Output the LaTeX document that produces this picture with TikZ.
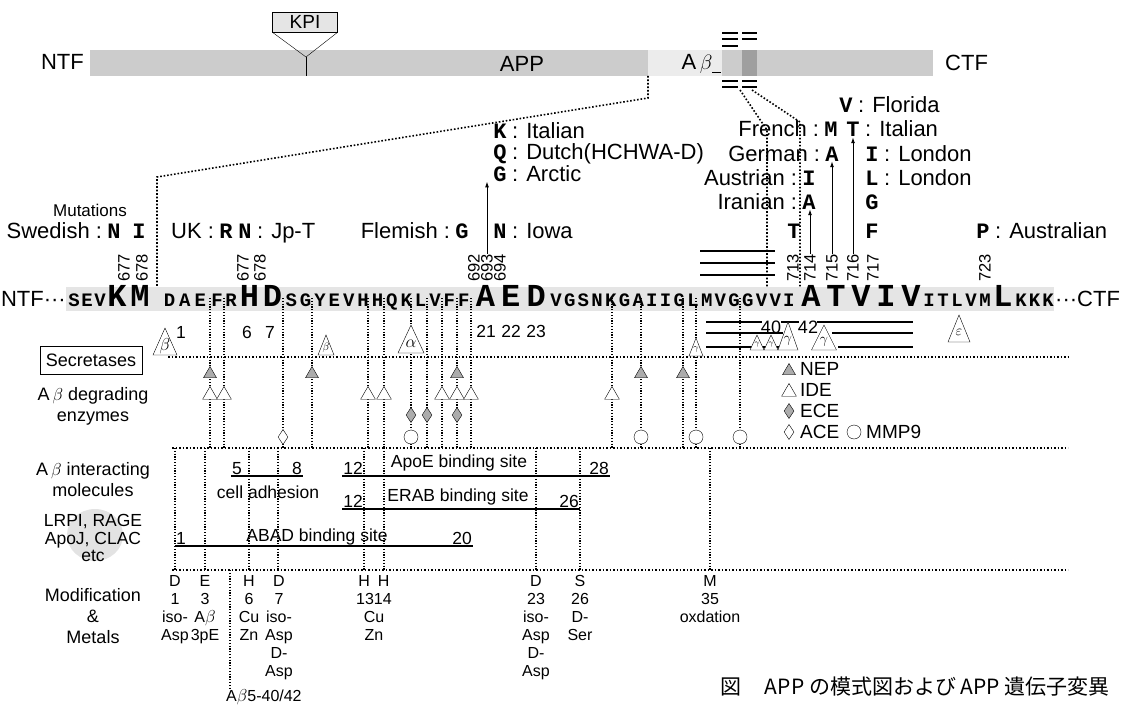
\documentclass[tikz,border=0pt]{standalone}
\usepackage{fontspec}
\setmainfont{Liberation Sans}
\newfontfamily\seqfont{Liberation Mono}
\newfontfamily\jpfont{Noto Sans CJK JP}
\usetikzlibrary{arrows.meta,positioning,shapes.geometric}

\begin{document}
\begin{tikzpicture}[x=1pt,y=-1pt,>={Latex[length=6pt,width=4pt]},
 lbl/.style={font=\fontsize{22}{26}\selectfont,inner sep=0pt},
 mut/.style={font=\fontsize{22}{26}\selectfont\seqfont\bfseries,inner sep=0pt,anchor=base},
 rnum/.style={font=\fontsize{16.5}{18}\selectfont,rotate=90,anchor=west,inner sep=0pt},
 seqs/.style={font=\fontsize{19}{20}\selectfont\seqfont\bfseries,anchor=base,inner sep=0pt},
 seqb/.style={font=\fontsize{32}{34}\selectfont\seqfont\bfseries,anchor=base,inner sep=0pt},
 rowlab/.style={font=\fontsize{18}{21}\selectfont,align=center,inner sep=0pt},
 ilab/.style={font=\fontsize{17.5}{20}\selectfont,inner sep=1pt},
 modt/.style={font=\fontsize{16}{18}\selectfont,align=center,anchor=north,inner sep=0pt},
 sepline/.style={line width=1.6pt,dash pattern=on 1.6pt off 1.9pt},
 colline/.style={line width=1.1pt,dash pattern=on 1.1pt off 1.7pt},
 siteline/.style={line width=1.8pt},
 nep/.style={regular polygon,regular polygon sides=3,minimum size=15pt,inner sep=0pt,draw,fill=gray!65},
 ide/.style={regular polygon,regular polygon sides=3,minimum size=17pt,inner sep=0pt,draw,fill=white},
 ece/.style={diamond,minimum width=10pt,minimum height=15pt,inner sep=0pt,draw,fill=gray!65},
 ace/.style={diamond,minimum width=10pt,minimum height=15pt,inner sep=0pt,draw,fill=white},
 mmp/.style={circle,minimum size=14pt,inner sep=0pt,draw,fill=white}]
\useasboundingbox (0,0) rectangle (1127,706);

% APP bar
\fill[gray!40] (90,50) rectangle (933,76);
\fill[gray!15] (648,50) rectangle (722,76);
\fill[gray!75] (742,50) rectangle (757,76);
\foreach \y in {33,39,81,87} {\draw[line width=1.4pt] (722,\y) -- (738,\y); \draw[line width=1.4pt] (742,\y) -- (757,\y);}
\draw[line width=1.4pt] (722,46) -- (738,46);
\draw (712,72) -- (721,72);
\node[lbl,anchor=east] (ntf) at (84,62) {NTF};
\node[lbl] (app) at (522,64) {APP};
\node[lbl] (abeta) at (697,64) {A\,$\beta$};
\node[lbl,anchor=west] (ctf) at (945,63) {CTF};
\node[draw,fill=gray!20,minimum width=65pt,minimum height=20pt,inner sep=0pt,font=\fontsize{19}{20}\selectfont] (kpi) at (305,22) {KPI};
\coordinate (kpit) at (306,57);
\draw (kpi.south west) -- (kpit) -- (kpi.south east);
\draw (kpit) -- (306,76);

% zoom lines to the sequence
\coordinate (abL) at (648,76); \coordinate (abM) at (648,98);
\coordinate (abN) at (157,177); \coordinate (abS) at (157,295);
\draw[sepline] (abL) -- (abM) -- (abN) -- (abS);
\draw[sepline] (740,90) -- (767,130) -- (767,295);
\draw[sepline] (752,90) -- (800,122) -- (800,295);

% sequence
\fill[gray!20] (66,287) rectangle (1054,311);
\node[lbl,anchor=base east] (ntfs) at (66,306) {NTF···};
\foreach \c [count=\i] in {S,E,V} \node[seqs] (pre\i) at (61+13*\i,306) {\c};
\node[seqb] (k0) at (117,306) {K};
\node[seqb] (m0) at (140,306) {M};
\foreach \c [count=\i] in {D,A,E} \node[seqs] (aa\i) at ({154.3+15.3*\i},306) {\c};
\node[seqs] (aa4) at (217,306) {F};
\node[seqs] (aa5) at (231,306) {R};
\node[seqb] (aa6) at (249.5,306) {H};
\node[seqb] (aa7) at (272.5,306) {D};
\foreach \c [count=\i from 8] in {S,G,Y,E,V,H,H,Q,K,L,V,F,F} \node[seqs] (aa\i) at ({291.2+14.38*(\i-8)},306) {\c};
\foreach \c [count=\i from 21] in {A,E,D} \node[seqb] (aa\i) at ({485.5+25.3*(\i-21)},306) {\c};
\foreach \c [count=\i from 24] in {V,G,S,N,K,G,A,I,I,G,L,M,V,G,G,V,V,I} \node[seqs] (aa\i) at ({556+13.7*(\i-24)},306) {\c};
\foreach \c [count=\i from 42] in {A,T,V,I,V} \node[seqb] (aa\i) at ({811+25*(\i-42)},306) {\c};
\foreach \c [count=\i from 47] in {I,T,L,V,M} \node[seqs] (aa\i) at ({929+14*(\i-47)},306) {\c};
\node[seqb] (aa52) at (1003,306) {L};
\foreach \c [count=\i from 53] in {K,K,K} \node[seqs] (aa\i) at ({1021+13.5*(\i-53)},306) {\c};
\node[lbl,anchor=base west] (ctfs) at (1055,306) {···CTF};

% mutations
\node[rowlab,font=\fontsize{17}{20}\selectfont] (mutl) at (90,210) {Mutations};
\foreach \n/\x in {677/124,678/142,677/243,678/260,692/474,693/487,694/500,713/793,714/810,715/832,716/853,717/873,723/985}
  \node[rnum] (n\n x\x) at (\x,282) {\n};
\node[mut] (swn) at (114,238) {N};
\node[mut] (swi) at (139,238) {I};
\node[lbl,anchor=base east] at ([xshift=-5pt]swn.base west) {Swedish :};
\node[mut] (ukr) at (226,238) {R};
\node[mut] (ukn) at (245,238) {N};
\node[lbl,anchor=base east] at ([xshift=-5pt]ukr.base west) {UK :};
\node[lbl,anchor=base west] at ([xshift=5pt]ukn.base east) {: Jp-T};
\node[mut] (flg) at (462,238) {G};
\node[lbl,anchor=base east] at ([xshift=-5pt]flg.base west) {Flemish :};
\node[mut] (iwn) at (500,238) {N};
\node[lbl,anchor=base west] at ([xshift=5pt]iwn.base east) {: Iowa};
\node[mut] (itk) at (500,139) {K};
\node[lbl,anchor=base west] at ([xshift=5pt]itk.base east) {: Italian};
\node[mut] (dtq) at (500,160) {Q};
\node[lbl,anchor=base west] at ([xshift=5pt]dtq.base east) {: Dutch(HCHWA-D)};
\node[mut] (arg) at (500,181) {G};
\node[lbl,anchor=base west] at ([xshift=5pt]arg.base east) {: Arctic};
\draw[->,line width=1pt] (n693x487.east) -- (n693x487.east |- arg.south);

\node[mut] (flv) at (846,113) {V};
\node[lbl,anchor=base west] at ([xshift=5pt]flv.base east) {: Florida};
\node[mut] (frm) at (831,137) {M};
\node[mut] (itt) at (853,137) {T};
\node[lbl,anchor=base east] at ([xshift=-5pt]frm.base west) {French :};
\node[lbl,anchor=base west] at ([xshift=5pt]itt.base east) {: Italian};
\node[mut] (gea) at (832,161) {A};
\node[mut] (loi) at (872,161) {I};
\node[lbl,anchor=base east] at ([xshift=-5pt]gea.base west) {German :};
\node[lbl,anchor=base west] at ([xshift=5pt]loi.base east) {: London};
\node[mut] (aui) at (809,185) {I};
\node[mut] (lol) at (872,185) {L};
\node[lbl,anchor=base east] at ([xshift=-5pt]aui.base west) {Austrian :};
\node[lbl,anchor=base west] at ([xshift=5pt]lol.base east) {: London};
\node[mut] (ira) at (809,209) {A};
\node[mut] (vg) at (872,209) {G};
\node[lbl,anchor=base east] at ([xshift=-5pt]ira.base west) {Iranian :};
\node[mut] (at) at (794,238) {T};
\node[mut] (vf) at (872,238) {F};
\node[mut] (aup) at (983,238) {P};
\node[lbl,anchor=base west] at ([xshift=5pt]aup.base east) {: Australian};
\draw[->,line width=1pt] (n714x810.east) -- (n714x810.east |- ira.south);
\draw[->,line width=1pt] (n715x832.east) -- (n715x832.east |- gea.south);
\draw[->,line width=1pt] (n716x853.east) -- (n716x853.east |- itt.south);
\foreach \y in {251,263,275} \draw[line width=1.5pt] (700,\y) -- (775,\y);

% secretases
\node[ilab] (p1) at (181,332) {1};
\node[ilab] (p6) at (247,332) {6};
\node[ilab] (p7) at (270,332) {7};
\foreach \n/\x in {21/486,22/511,23/536} \node[ilab] (p\n) at (\x,331) {\n};
\node[draw,minimum width=102pt,minimum height=28pt,inner sep=0pt,font=\fontsize{18}{20}\selectfont] (secr) at (91,360) {Secretases};
\draw[sepline] (168,357) -- (1068,357);
\draw[sepline] (172,448) -- (1068,448);
\draw[sepline] (172,570) -- (1068,570);
\foreach \x in {210,224,283,312,368,384,411,427,442,457,471,612,641,683,696,740}
  \draw[colline] (\x,298) -- (\x,448);
\draw[line width=1.5pt] (706,322) -- (762,322) (781,322) -- (799,322) (817,322) -- (913,322);
\draw[line width=1.5pt] (706,333) -- (783,333) (832,333) -- (913,333);
\draw[line width=1.5pt] (706,347) -- (797,347) (838,347) -- (913,347);
\node[ilab,font=\fontsize{18}{20}\selectfont] (g40) at (771,327) {40};
\node[ilab,font=\fontsize{18}{20}\selectfont] (g42) at (808,327) {42};
\foreach \x/\yb/\w/\h/\g/\f in {165/355/12/27/\beta/16,326/355/8/20/\beta/11,411/353/13/28/\alpha/17,696/356/7/18/\gamma/9,757/350/7/15/\gamma/8,771/350/7/15/\gamma/8,788/350/10/28/\gamma/14,824/350/12.5/25/\gamma/15,959/342/11/27/\varepsilon/15} {
  \draw[fill=white] (\x-\w,\yb) -- (\x,\yb-\h) -- (\x+\w,\yb) -- cycle;
  \node[inner sep=0pt,font=\fontsize{\f}{\f}\selectfont] (sec\x) at (\x,\yb-0.34*\h) {$\g$};
}

% degrading enzymes
\node[rowlab] (degr) at (93,406) {A\,$\beta$ degrading\\enzymes};
\foreach \x in {210,312,457,641,683} \node[nep] (nep\x) at (\x,374) {};
\foreach \x in {210,224,368,384,442,457,471,612} \node[ide] (ide\x) at (\x,395) {};
\foreach \x in {411,427,457} \node[ece] (ece\x) at (\x,415) {};
\node[ace] (ace283) at (283,437) {};
\foreach \x in {411,641,696,740} \node[mmp] (mmp\x) at (\x,437) {};
\node[nep] (lnep) at (789,371) {};
\node[lbl,anchor=west,font=\fontsize{19}{22}\selectfont] at (800,369) {NEP};
\node[ide] (lide) at (789,392) {};
\node[lbl,anchor=west,font=\fontsize{19}{22}\selectfont] at (800,390) {IDE};
\node[ece] (lece) at (789,411) {};
\node[lbl,anchor=west,font=\fontsize{19}{22}\selectfont] at (800,411) {ECE};
\node[ace] (lace) at (789,432) {};
\node[lbl,anchor=west,font=\fontsize{19}{22}\selectfont] at (800,432) {ACE};
\node[mmp] (lmmp) at (854,432) {};
\node[lbl,anchor=west,font=\fontsize{19}{22}\selectfont] at (866,432) {MMP9};

% interacting molecules
\node[rowlab] (intr) at (93,480) {A\,$\beta$ interacting\\molecules};
\fill[gray!22] (95,535) ellipse [x radius=28pt,y radius=26pt];
\node[rowlab,font=\fontsize{17.5}{17.5}\selectfont] (lrp) at (93,538) {LRPI, RAGE\\ApoJ, CLAC\\etc};
\foreach \x in {175,205,249,278,364,384,536,580,710} \draw[colline] (\x,448) -- (\x,570);
\node[ilab,anchor=south] (i5) at (237,476) {5};
\node[ilab,anchor=south] (i8) at (297,476) {8};
\draw[siteline] (i5.south west) -- (i5.south west -| i8.south east);
\node[ilab] (cell) at (268,492) {cell adhesion};
\node[ilab,anchor=south] (i12a) at (353,476) {12};
\node[ilab,anchor=south] (i28) at (599,476) {28};
\draw[siteline] (i12a.south west) -- (i12a.south west -| i28.south east);
\node[ilab] (apoe) at (459,463) {ApoE binding site};
\node[ilab,anchor=south] (i12b) at (353,509) {12};
\node[ilab,anchor=south] (i26) at (569,509) {26};
\draw[siteline] (i12b.south west) -- (i12b.south west -| i26.south east);
\node[ilab] (erab) at (458,497) {ERAB binding site};
\node[ilab,anchor=south] (i1) at (181,546) {1};
\node[ilab,anchor=south] (i20) at (462,546) {20};
\draw[siteline] (i1.south west) -- (i1.south west -| i20.south east);
\node[ilab] (abad) at (317,537) {ABAD binding site};

% modification and metals
\node[rowlab] (modl) at (93,616) {Modification\\\&\\Metals};
\node[modt] (md1) at (175,575) {D\\1\\iso-\\Asp};
\node[modt] (md3) at (205,575) {E\\3\\A$\beta$\\3pE};
\node[modt] (md6) at (249,575) {H\\6\\Cu\\Zn};
\node[modt] (md7) at (279,575) {D\\7\\iso-\\Asp\\D-\\Asp};
\node[modt] (md13) at (374,575) {H\enspace H\\1314\\Cu\\Zn};
\node[modt] (md23) at (536,575) {D\\23\\iso-\\Asp\\D-\\Asp};
\node[modt] (md26) at (580,575) {S\\26\\D-\\Ser};
\node[modt] (md35) at (710,575) {M\\35\\oxdation};
\coordinate (t5) at (230,570);
\node[modt,anchor=west] (ab5) at (226,697) {A$\beta$5-40/42};
\draw[colline] (t5) -- (t5 |- ab5.north);

\node[font=\fontsize{21}{24}\selectfont\jpfont,anchor=east,inner sep=0pt] (capt) at (1110,687) {図\hspace{1.1em}APP の模式図および APP 遺伝子変異};
\end{tikzpicture}
\end{document}
